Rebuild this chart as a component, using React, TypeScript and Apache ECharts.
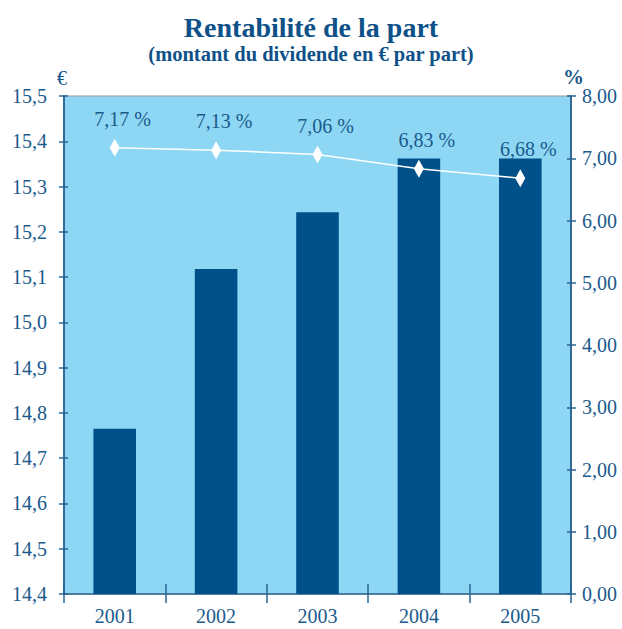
import React, { useEffect, useRef } from "react";
import * as echarts from "echarts";

const years = ["2001", "2002", "2003", "2004", "2005"];
const dividend = [14.765, 15.118, 15.243, 15.362, 15.362];
const rentab = [7.17, 7.13, 7.06, 6.83, 6.68];
const leftMin = 14.4;
const leftMax = 15.5;
const leftStep = 0.1;
const rightMin = 0;
const rightMax = 8;
const rightStep = 1;

const SERIF = "Liberation Serif, Times New Roman, serif";
const TXT = "#1b5a8c";
const AXIS = "#2a6594";

export default function App() {
  const ref = useRef<HTMLDivElement>(null);
  useEffect(() => {
    if (!ref.current) return;
    const chart = echarts.init(ref.current, null, { renderer: "svg" });
    const yBase = (extra: any) => ({
      type: "value",
      splitLine: { show: false },
      axisLine: { show: true, lineStyle: { color: AXIS, width: 1.5 } },
      ...extra,
    });
    chart.setOption({
      animation: false,
      backgroundColor: "#ffffff",
      title: {
        text: "Rentabilité de la part",
        subtext: "(montant du dividende en € par part)",
        left: "center",
        top: 8,
        itemGap: 2,
        textStyle: { fontFamily: SERIF, fontSize: 28, fontWeight: "bold", color: "#0e5188" },
        subtextStyle: { fontFamily: SERIF, fontSize: 20.5, fontWeight: "bold", color: "#0e5188" },
      },
      graphic: [
        { type: "text", left: 57, top: 68, style: { text: "€", fontFamily: SERIF, fontSize: 20, fill: TXT } },
        { type: "text", left: 563, top: 66, style: { text: "%", fontFamily: SERIF, fontSize: 21, fontWeight: "bold", fill: TXT } },
      ],
      grid: {
        left: 64,
        right: 51,
        top: 96,
        bottom: 35,
        show: true,
        backgroundColor: "#8dd7f5",
        borderColor: "#9a9a9a",
        borderWidth: 1,
      },
      xAxis: [
        {
          type: "category",
          data: years,
          axisLine: { show: true, lineStyle: { color: AXIS, width: 1.5 } },
          axisTick: { show: true, length: 9, lineStyle: { color: AXIS, width: 1.5 } },
          axisLabel: { fontFamily: SERIF, fontSize: 20, color: TXT, margin: 12 },
        },
        {
          type: "category",
          data: years,
          position: "bottom",
          axisLine: { show: false },
          axisTick: { show: true, inside: true, length: 10, lineStyle: { color: AXIS, width: 1.5 } },
          axisLabel: { show: false },
        },
      ],
      yAxis: [
        yBase({
          min: leftMin,
          max: leftMax,
          interval: leftStep,
          position: "left",
          axisTick: { show: true, length: 5, lineStyle: { color: AXIS, width: 1.5 } },
          axisLabel: {
            fontFamily: SERIF,
            fontSize: 20,
            color: TXT,
            margin: 17,
            formatter: (v: number) => v.toFixed(1).replace(".", ","),
          },
        }),
        yBase({
          min: rightMin,
          max: rightMax,
          interval: rightStep,
          position: "right",
          axisTick: { show: true, length: 5, lineStyle: { color: AXIS, width: 1.5 } },
          axisLabel: {
            fontFamily: SERIF,
            fontSize: 20,
            color: TXT,
            margin: 11,
            formatter: (v: number) => v.toFixed(2).replace(".", ","),
          },
        }),
        yBase({
          min: leftMin,
          max: leftMax,
          interval: leftStep,
          position: "left",
          axisTick: { show: true, inside: true, length: 4, lineStyle: { color: AXIS, width: 1.5 } },
          axisLabel: { show: false },
        }),
        yBase({
          min: rightMin,
          max: rightMax,
          interval: rightStep,
          position: "right",
          axisTick: { show: true, inside: true, length: 4, lineStyle: { color: AXIS, width: 1.5 } },
          axisLabel: { show: false },
        }),
      ],
      series: [
        {
          type: "bar",
          data: dividend,
          xAxisIndex: 0,
          yAxisIndex: 0,
          barWidth: "42%",
          itemStyle: { color: "#00518a" },
        },
        {
          type: "line",
          data: rentab,
          xAxisIndex: 0,
          yAxisIndex: 1,
          symbol: "diamond",
          symbolSize: [10, 18],
          lineStyle: { color: "#ffffff", width: 1.5 },
          itemStyle: { color: "#ffffff" },
          z: 5,
          label: {
            show: true,
            position: "top",
            distance: 10,
            offset: [8, 0],
            fontFamily: SERIF,
            fontSize: 20,
            color: TXT,
            formatter: (p: any) => p.value.toFixed(2).replace(".", ",") + " %",
          },
        },
      ],
    });
    return () => chart.dispose();
  }, []);
  return <div ref={ref} style={{ width: 622, height: 629, position: "absolute", left: 0, top: 0 }} />;
}
